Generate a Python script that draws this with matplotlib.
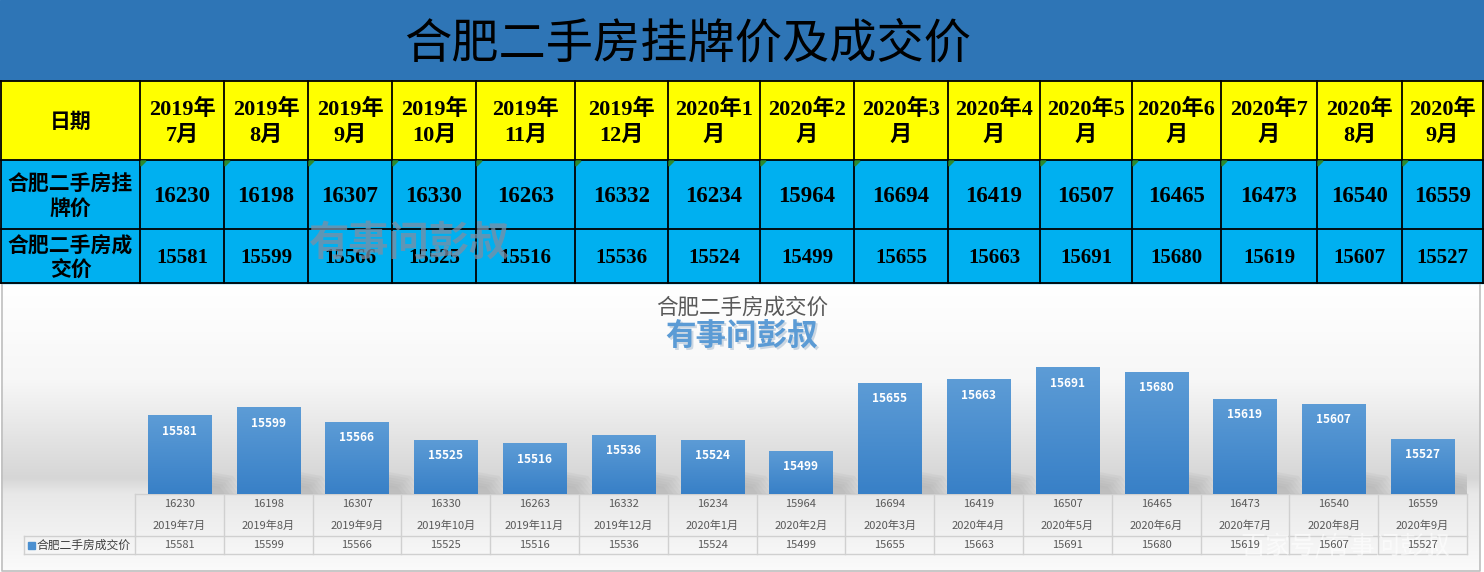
import matplotlib
matplotlib.use("Agg")
import matplotlib.pyplot as plt
import numpy as np
from matplotlib.patches import Rectangle, Polygon
from matplotlib.transforms import blended_transform_factory

plt.rcParams['font.family'] = ['Noto Sans CJK SC', 'DejaVu Sans']
SERIF = ['Liberation Serif', 'Noto Sans CJK SC', 'DejaVu Sans']

# ---------------- data ----------------
title = "合肥二手房挂牌价及成交价"
chart_title = "合肥二手房成交价"
brand = "有事问彭叔"
row_header = "日期"
row_labels = ["合肥二手房挂\n牌价", "合肥二手房成\n交价"]
header_labels = ["2019年\n7月", "2019年\n8月", "2019年\n9月", "2019年\n10月", "2019年\n11月",
                 "2019年\n12月", "2020年1\n月", "2020年2\n月", "2020年3\n月", "2020年4\n月",
                 "2020年5\n月", "2020年6\n月", "2020年7\n月", "2020年\n8月", "2020年\n9月"]
months = ["2019年7月", "2019年8月", "2019年9月", "2019年10月", "2019年11月", "2019年12月",
          "2020年1月", "2020年2月", "2020年3月", "2020年4月", "2020年5月", "2020年6月",
          "2020年7月", "2020年8月", "2020年9月"]
listing = [16230, 16198, 16307, 16330, 16263, 16332, 16234, 15964, 16694, 16419,
           16507, 16465, 16473, 16540, 16559]
deal = [15581, 15599, 15566, 15525, 15516, 15536, 15524, 15499, 15655, 15663,
        15691, 15680, 15619, 15607, 15527]
series_name = "合肥二手房成交价"
watermark2 = "百家号/有事问彭叔"

# ---------------- layout ----------------
W, H = 1484, 572
fig = plt.figure(figsize=(W / 100, H / 100), dpi=100)
ax = fig.add_axes([0, 0, 1, 1])
ax.set_xlim(0, W)
ax.set_ylim(H, 0)
ax.axis('off')

# top blue band
ax.add_patch(Rectangle((0, 0), W, 81, color='#2E75B6', zorder=1))
ax.text(688, 44, title, ha='center', va='center', fontsize=34, color='black',
        fontweight='normal', zorder=5)

# spreadsheet table
col_edges = [1, 140, 224, 308, 392, 476, 575, 668, 760, 854, 948, 1040, 1132, 1221, 1317, 1402, 1483]
row_edges = [81, 160, 229, 283]
ax.add_patch(Rectangle((1, 81), 1482, 79, color='#FFFF00', zorder=1))
ax.add_patch(Rectangle((1, 160), 1482, 123, color='#00B0F0', zorder=1))
for x in col_edges:
    ax.plot([x, x], [81, 283], color='black', lw=1.3, zorder=3)
for y in row_edges:
    ax.plot([1, 1483], [y, y], color='black', lw=1.3, zorder=3)

ccent = [(col_edges[i] + col_edges[i + 1]) / 2 for i in range(len(col_edges) - 1)]
ax.text(ccent[0], 121, row_header, ha='center', va='center', fontsize=15,
        fontweight='bold', zorder=5)
for i, lab in enumerate(header_labels):
    ax.text(ccent[i + 1], 122.5, lab, ha='center', va='center', fontsize=16,
            fontweight='bold', linespacing=1.35, family=SERIF, zorder=5)
rcent = [196.5, 258.5]
for r, lab in enumerate(row_labels):
    ax.text(ccent[0], rcent[r], lab, ha='center', va='center', fontsize=15,
            fontweight='bold', linespacing=1.2, zorder=5)
for i in range(len(listing)):
    ax.text(ccent[i + 1], 197, str(listing[i]), ha='center', va='center', fontsize=16.5,
            fontweight='bold', family=SERIF, zorder=5)
    ax.text(ccent[i + 1], 258, str(deal[i]), ha='center', va='center', fontsize=15,
            fontweight='bold', family=SERIF, zorder=5)
    x0 = col_edges[i + 1]
    ax.add_patch(Polygon([(x0 + 1, 161), (x0 + 6, 161), (x0 + 1, 166)], closed=True,
                         color='#2E8B2E', zorder=4))

# table watermark
ax.text(410, 243, brand, ha='center', va='center', fontsize=29, fontweight='bold',
        color='#7F8EA3', alpha=0.75, zorder=6)

# chart background gradient
stops_y = [284, 380, 478, 494, 572]
stops_c = [255, 247, 214, 232, 251]
ys = np.linspace(284, 572, 300)
vals = np.interp(ys, stops_y, stops_c) / 255.0
grad = np.repeat(vals[:, None], 3, axis=1)[:, None, :]
ax.imshow(grad, extent=(1, 1480, 572, 284), aspect='auto', zorder=0.5)
ax.plot([1.5, 1.5, 1480, 1480], [284, 571, 571, 284], color='#BFBFBF', lw=1.2, zorder=2)
ax.set_xlim(0, W)
ax.set_ylim(H, 0)

ax.text(742, 308, chart_title, ha='center', va='center', fontsize=15.5, color='#595959',
        zorder=5)
ax.text(743.5, 338.5, brand, ha='center', va='center', fontsize=22, fontweight='bold',
        color='#B8C8D8', alpha=0.7, zorder=5)
ax.text(742, 337, brand, ha='center', va='center', fontsize=22, fontweight='bold',
        color='#5B9BD5', zorder=6)

# ---------------- bar chart ----------------
base_px, top_px = 494, 341.4
ymin, ymax = 15400, 15750
axb = fig.add_axes([135 / W, (H - base_px) / H, 1332 / W, (base_px - top_px) / H])
axb.patch.set_alpha(0)
axb.axis('off')
xs = np.arange(len(deal))
bw = 0.71
bars = axb.bar(xs, [d - ymin for d in deal], bottom=ymin, width=bw, color='#4A8FD0',
               zorder=3)
px_unit = (ymax - ymin) / (base_px - top_px)   # data units per pixel
cat_px = 1332 / 15.0

top_c = np.array([93, 156, 214]) / 255
bot_c = np.array([56, 128, 199]) / 255
g = np.linspace(0, 1, 100)[:, None]
bar_grad = (bot_c[None, :] * (1 - g) + top_c[None, :] * g)[:, None, :]
for b, d in zip(bars, deal):
    x0 = b.get_x()
    x1 = x0 + b.get_width()
    im = axb.imshow(bar_grad, extent=(x0, x1, ymin, d), origin='lower', aspect='auto',
                    zorder=4)
    im.set_clip_path(b)
    # soft shadow to the right
    for k in range(6):
        s = 1 - k * 0.12
        poly = [(x1, ymin), (x1, ymin + 22 * s * px_unit),
                (x1 + 22 * s / cat_px, ymin + 18 * s * px_unit),
                (x1 + 36 * s / cat_px, ymin)]
        axb.add_patch(Polygon(poly, closed=True, color='#808080', alpha=0.07, lw=0,
                              zorder=2))
    axb.annotate(str(d), (b.get_x() + b.get_width() / 2, d), xytext=(0, -16),
                 textcoords='offset pixels', ha='center', va='center', color='white',
                 fontsize=8.5, fontweight='bold', zorder=6)
axb.set_xlim(-0.5, 14.5)
axb.set_ylim(ymin, ymax)

# ---------------- data table under chart ----------------
tr = blended_transform_factory(axb.transData, ax.transData)
lc = '#D0D0D0'
ax.plot([135, 1467], [494, 494], color=lc, lw=1, zorder=3)
ax.plot([135, 1467], [536, 536], color=lc, lw=1, zorder=3)
ax.plot([24, 135], [536, 536], color=lc, lw=1, zorder=3)
ax.plot([24, 1467], [554, 554], color=lc, lw=1, zorder=3)
ax.plot([24, 24], [536, 554], color=lc, lw=1, zorder=3)
for k in range(len(deal) + 1):
    axb.plot([k - 0.5, k - 0.5], [494, 554], color=lc, lw=1, transform=tr, zorder=3,
             clip_on=False)
for i in range(len(deal)):
    axb.text(i, 504, str(listing[i]), transform=tr, ha='center', va='center', fontsize=8,
             color='#595959', clip_on=False)
    axb.text(i, 526, months[i], transform=tr, ha='center', va='center', fontsize=8,
             color='#595959', clip_on=False)
    axb.text(i, 545, str(deal[i]), transform=tr, ha='center', va='center', fontsize=8,
             color='#595959', clip_on=False)
ax.add_patch(Rectangle((28, 541.5), 7, 7, color='#4A8FD0', zorder=4))
ax.text(36, 545, series_name, ha='left', va='center', fontsize=8.5, color='#404040',
        zorder=5)

ax.text(1345, 547, watermark2, ha='center', va='center', fontsize=18, color='white',
        alpha=0.6, zorder=7)

fig.savefig("out.png", dpi=100)
